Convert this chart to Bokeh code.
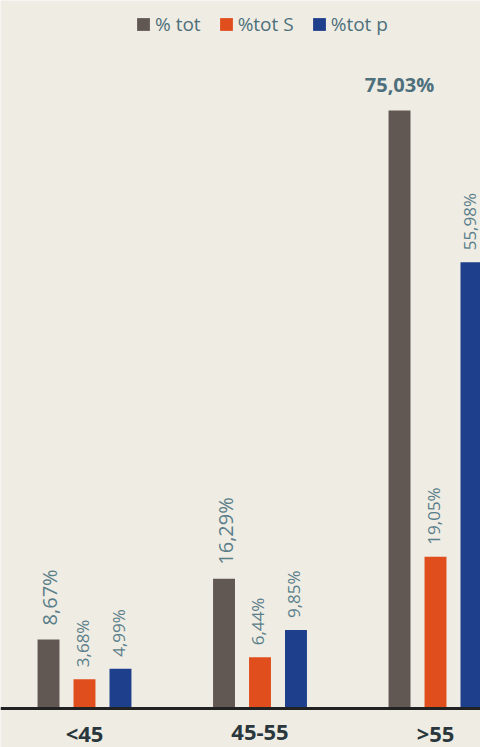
from bokeh.plotting import figure
from bokeh.models import ColumnDataSource, Range1d, Span, Legend, LegendItem
from bokeh.core.properties import value
from bokeh.embed import file_html
from bokeh.resources import INLINE
import math

categories = ["<45", "45-55", ">55"]
series_names = ["% tot", "%tot S", "%tot p"]
tot = [8.67, 16.29, 75.03]
tot_s = [3.68, 6.44, 19.05]
tot_p = [4.99, 9.85, 55.98]

colors = ["#625853", "#E04E1D", "#1E3F8C"]
offsets = [-0.205, 0.0, 0.205]
BG = "#EFECE3"
LABEL_COLOR = "#5a7e8a"
FONT = "Open Sans"

def fmt(v):
    return f"{v:.2f}".replace(".", ",") + "%"

p = figure(width=480, height=747, output_backend="svg", toolbar_location=None,
           x_range=Range1d(-0.4786, 2.2564), y_range=Range1d(-4.89, 88.83),
           min_border=0, min_border_left=0, min_border_right=0,
           min_border_top=0, min_border_bottom=0)
p.background_fill_color = BG
p.border_fill_color = BG
p.outline_line_color = None
p.xgrid.visible = False
p.ygrid.visible = False
p.xaxis.visible = False
p.yaxis.visible = False

xs = list(range(len(categories)))
renderers = []
for vals, name, col, off in zip([tot, tot_s, tot_p], series_names, colors, offsets):
    src = ColumnDataSource(dict(x=[i + off for i in xs], top=vals,
                                label=[fmt(v) for v in vals]))
    r = p.vbar(x="x", top="top", bottom=0, width=0.125, source=src,
               fill_color=col, line_color=None)
    renderers.append((name, r))
    if name == "% tot":
        vmax = max(vals)
        rot = ColumnDataSource(dict(x=[src.data["x"][i] for i, v in enumerate(vals) if v != vmax],
                                    y=[v for v in vals if v != vmax],
                                    label=[fmt(v) for v in vals if v != vmax]))
        p.text(x="x", y="y", text="label", source=rot, angle=math.pi / 2,
               text_align="left", text_baseline="middle", y_offset=-14, x_offset=1,
               text_font=value(FONT), text_font_size="20px", text_color=LABEL_COLOR)
        hor = ColumnDataSource(dict(x=[src.data["x"][i] for i, v in enumerate(vals) if v == vmax],
                                    y=[vmax], label=[fmt(vmax)]))
        p.text(x="x", y="y", text="label", source=hor,
               text_align="center", text_baseline="bottom", y_offset=-12,
               text_font=value(FONT), text_font_style="bold", text_font_size="20px",
               text_color="#4d707c")
    else:
        p.text(x="x", y="top", text="label", source=src, angle=math.pi / 2,
               text_align="left", text_baseline="middle", y_offset=-12, x_offset=-2,
               text_font=value(FONT), text_font_size="17px", text_color=LABEL_COLOR)

# baseline axis line
p.add_layout(Span(location=0, dimension="width", line_color="#222222", line_width=3))

# category labels
cat_src = ColumnDataSource(dict(x=xs, y=[0] * len(xs), label=categories))
p.text(x="x", y="y", text="label", source=cat_src, text_align="center",
       text_baseline="middle", y_offset=24, text_font=value(FONT),
       text_font_style="bold", text_font_size="22px", text_color="#2a373d")

legend = Legend(items=[LegendItem(label=n, renderers=[r]) for n, r in renderers],
                orientation="horizontal", location=(135, 710),
                background_fill_alpha=0, border_line_color=None,
                padding=0, margin=0, spacing=17, label_standoff=4,
                glyph_width=16, glyph_height=16, label_height=16,
                label_text_font=FONT, label_text_font_size="19px",
                label_text_color="#4d707c")
p.add_layout(legend)

open("out.html", "w").write(file_html(p, INLINE))
